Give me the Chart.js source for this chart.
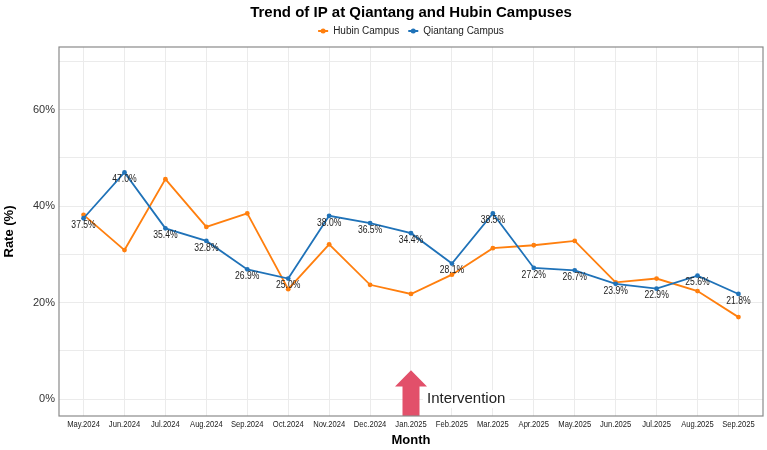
<!DOCTYPE html>
<html>
<head>
<meta charset="utf-8">
<script src="https://cdn.jsdelivr.net/npm/chart.js@4.4.1/dist/chart.umd.min.js"></script>
<style>
    html, body { margin: 0; padding: 0; background: #fff; }
    #wrap { width: 767px; height: 450px; }
</style>
</head>
<body>
<div id="wrap"><canvas id="myChart" width="767" height="450"></canvas></div>
<script>
const months = [
    "May.2024", "Jun.2024", "Jul.2024", "Aug.2024", "Sep.2024", "Oct.2024",
    "Nov.2024", "Dec.2024", "Jan.2025", "Feb.2025", "Mar.2025", "Apr.2025",
    "May.2025", "Jun.2025", "Jul.2025", "Aug.2025", "Sep.2025"
];
const hubinRates = [38.2, 30.9, 45.6, 35.7, 38.5, 22.8, 32.1, 23.7, 21.8, 25.8, 31.3, 31.9, 32.8, 24.2, 25.0, 22.4, 17.0];
const qiantangRates = [37.5, 47.0, 35.4, 32.8, 26.9, 25.0, 38.0, 36.5, 34.4, 28.1, 38.5, 27.2, 26.7, 23.9, 22.9, 25.6, 21.8];
const yTicks = [0, 10, 20, 30, 40, 50, 60, 70];
const interventionMonth = "Jan.2025";
const chartTitle = "Trend of IP at Qiantang and Hubin Campuses";

const colors = {
    hubin: "#FF7F0E",
    qiantang: "#1F72B8",
    arrow: "#E2506A",
};
const sans = '"Liberation Sans", Arial, sans-serif';

function toPoints(values) {
    return values.map((v, i) => ({ x: i, y: v }));
}

// text squeezed a bit horizontally, the reference fonts are narrow
function narrowText(ctx, text, x, y, squeeze) {
    ctx.save();
    ctx.translate(x, y);
    ctx.scale(squeeze, 1);
    ctx.fillText(text, 0, 0);
    ctx.restore();
}

// title and legend are centred over the panel (ggplot style), so drawn here
const header = {
    id: "header",
    afterDraw(chart) {
        const { ctx, chartArea: a } = chart;
        const cx = (a.left + a.right) / 2;
        ctx.save();
        ctx.textBaseline = "middle";
        ctx.textAlign = "center";
        ctx.fillStyle = "#000";
        ctx.font = "bold 15px " + sans;
        ctx.fillText(chartTitle, cx, 13);

        ctx.font = "10px " + sans;
        const keyW = 10, keyGap = 5, itemGap = 9;
        const items = chart.data.datasets.map((ds) => ({
            text: ds.label,
            color: ds.borderColor,
            w: keyW + keyGap + ctx.measureText(ds.label).width,
        }));
        const total = items.reduce((s, it) => s + it.w, 0) + itemGap * (items.length - 1);
        let x = cx - total / 2;
        const ly = 31;
        ctx.textAlign = "left";
        items.forEach((it) => {
            ctx.strokeStyle = it.color;
            ctx.fillStyle = it.color;
            ctx.lineWidth = 2;
            ctx.beginPath();
            ctx.moveTo(x, ly);
            ctx.lineTo(x + keyW, ly);
            ctx.stroke();
            ctx.beginPath();
            ctx.arc(x + keyW / 2, ly, 2.5, 0, Math.PI * 2);
            ctx.fill();
            ctx.fillStyle = "#222";
            ctx.fillText(it.text, x + keyW + keyGap, ly);
            x += it.w + itemGap;
        });
        ctx.restore();
    },
};

const extras = {
    id: "extras",
    afterDatasetsDraw(chart) {
        const { ctx, chartArea: a, scales } = chart;
        ctx.save();

        // value labels on the Qiantang line
        ctx.font = "10px " + sans;
        ctx.fillStyle = "#222";
        ctx.textAlign = "center";
        ctx.textBaseline = "middle";
        chart.getDatasetMeta(1).data.forEach((pt, i) => {
            narrowText(ctx, qiantangRates[i].toFixed(1) + "%", pt.x, pt.y + 7, 0.86);
        });

        // month labels
        ctx.font = "9.5px " + sans;
        ctx.fillStyle = "#222";
        ctx.textBaseline = "top";
        months.forEach((m, i) => {
            narrowText(ctx, m, scales.x.getPixelForValue(i), a.bottom + 4, 0.8);
        });

        // intervention arrow
        const ax = scales.x.getPixelForValue(months.indexOf(interventionMonth));
        const tip = scales.y.getPixelForValue(6.0);
        const neck = scales.y.getPixelForValue(2.6);
        ctx.fillStyle = colors.arrow;
        ctx.beginPath();
        ctx.moveTo(ax, tip);
        ctx.lineTo(ax + 16, neck);
        ctx.lineTo(ax + 8.5, neck);
        ctx.lineTo(ax + 8.5, a.bottom);
        ctx.lineTo(ax - 8.5, a.bottom);
        ctx.lineTo(ax - 8.5, neck);
        ctx.lineTo(ax - 16, neck);
        ctx.closePath();
        ctx.fill();

        ctx.font = "15px " + sans;
        ctx.textBaseline = "middle";
        const ty = scales.y.getPixelForValue(0);
        const tw = ctx.measureText("Intervention").width;
        ctx.fillStyle = "#fff";
        ctx.fillRect(ax + 12, ty - 9, tw + 8, 18);
        ctx.fillStyle = "#222";
        ctx.textAlign = "left";
        ctx.fillText("Intervention", ax + 16, ty);

        // panel border
        ctx.strokeStyle = "#8a8a8a";
        ctx.lineWidth = 1.2;
        ctx.strokeRect(a.left, a.top, a.right - a.left, a.bottom - a.top);
        ctx.restore();
    },
};

const ctx = document.getElementById("myChart");
const chart = new Chart(ctx, {
    type: "line",
    data: {
        datasets: [
            {
                label: "Hubin Campus",
                data: toPoints(hubinRates),
                borderColor: colors.hubin,
                backgroundColor: colors.hubin,
                borderWidth: 1.8,
                pointRadius: 2.4,
                pointBorderWidth: 0,
                tension: 0,
                order: 2,
            },
            {
                label: "Qiantang Campus",
                data: toPoints(qiantangRates),
                borderColor: colors.qiantang,
                backgroundColor: colors.qiantang,
                borderWidth: 1.8,
                pointRadius: 2.4,
                pointBorderWidth: 0,
                tension: 0,
                order: 1,
            },
        ],
    },
    options: {
        responsive: false,
        animation: false,
        layout: { padding: { top: 47, right: 4, bottom: 0, left: 0 } },
        plugins: {
            title: { display: false },
            legend: { display: false },
            tooltip: { enabled: false },
        },
        scales: {
            x: {
                type: "linear",
                min: -0.6,
                max: 16.6,
                afterBuildTicks(scale) {
                    scale.ticks = months.map((m, i) => ({ value: i }));
                },
                afterFit(scale) {
                    scale.height = 34;
                },
                grid: { color: "#ebebeb", drawTicks: false },
                border: { display: false },
                ticks: { display: false },
                title: {
                    display: true,
                    text: "Month",
                    color: "#000",
                    font: { family: sans, size: 13, weight: "bold" },
                    padding: { top: 2, bottom: 2 },
                },
            },
            y: {
                type: "linear",
                min: -3.5,
                max: 73,
                afterBuildTicks(scale) {
                    scale.ticks = yTicks.map((v) => ({ value: v }));
                },
                afterFit(scale) {
                    scale.width = 59;
                },
                grid: { color: "#ebebeb", drawTicks: false },
                border: { display: false },
                ticks: {
                    padding: 4,
                    color: "#333",
                    font: { family: sans, size: 11 },
                    callback: (v) => (v % 20 === 0 ? v + "%" : ""),
                },
                title: {
                    display: true,
                    text: "Rate (%)",
                    color: "#000",
                    font: { family: sans, size: 13, weight: "bold" },
                    padding: { top: 2, bottom: 4 },
                },
            },
        },
    },
    plugins: [extras, header],
});
</script>
</body>
</html>
